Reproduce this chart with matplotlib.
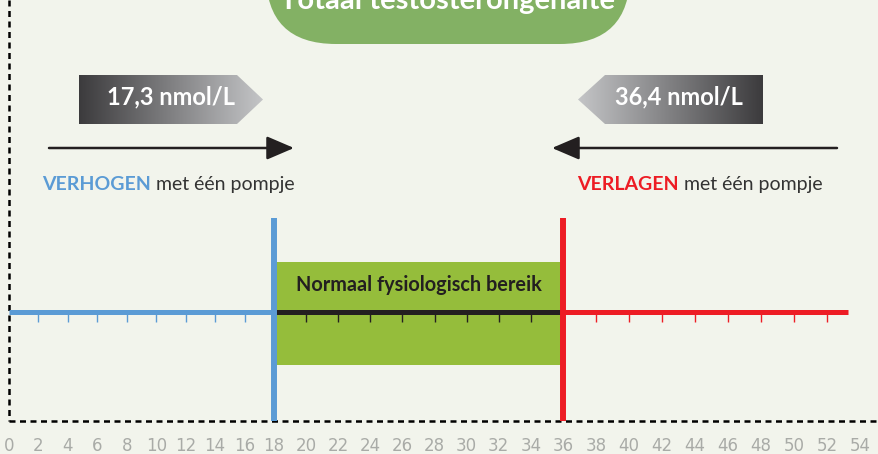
import numpy as np
import matplotlib.pyplot as plt
from matplotlib.patches import Polygon, FancyBboxPatch, FancyArrowPatch

# data
ticks = np.arange(0, 56, 2)
low_end = 18       # blue part ends / normal range starts
high_start = 36    # normal range ends / red part starts
line_end = 53.3
low_label = "17,3 nmol/L"
high_label = "36,4 nmol/L"
range_label = "Normaal fysiologisch bereik"
title = "Totaal testosterongehalte"

bg = "#f2f4ec"
blue = "#5b9bd5"
red = "#ed1c24"
dark = "#231f20"
green = "#95bd3b"
title_green = "#83b164"

# axis in the picture is not evenly spaced -> piecewise scale
knots_v = [-10, 0, 18, 36, 54, 64]
knots_p = [9 - 147.2, 9, 274, 563, 860, 1025]

def fwd(v):
    return np.interp(v, knots_v, knots_p)

def inv(p):
    return np.interp(p, knots_p, knots_v)

plt.rcParams['font.family'] = ['Lato', 'DejaVu Sans']

fig = plt.figure(figsize=(8.79, 4.54), dpi=100, facecolor=bg)

# decoration layer in pixel units
deco = fig.add_axes([0, 0, 1, 1], zorder=1)
deco.set_xlim(0, 879)
deco.set_ylim(454, 0)
deco.axis('off')

# data layer
ax = fig.add_axes([0, 0, 1, 1], zorder=2)
ax.set_xscale('function', functions=(fwd, inv))
ax.set_xlim(inv(0), inv(879))
ax.set_ylim(454, 0)
ax.axis('off')
ax.patch.set_visible(False)

# title blob (cut off at the top like in the original)
blob = FancyBboxPatch((266, -80), 364, 124, boxstyle="round,pad=0,rounding_size=70",
                      fc=title_green, ec='none')
deco.add_patch(blob)
deco.text(448, 9, title, color='white', fontsize=21, fontweight='bold',
          ha='center', va='baseline')

# gradient label boxes
grad = np.linspace(0, 1, 256).reshape(1, -1)
cmap = plt.matplotlib.colors.LinearSegmentedColormap.from_list("g", ["#3c3b3d", "#c4c5c7"])

left_poly = Polygon([(79, 75), (237, 75), (263, 99.5), (237, 124), (79, 124)],
                    closed=True, fc='none', ec='none')
deco.add_patch(left_poly)
im = deco.imshow(grad, cmap=cmap, extent=(79, 263, 124, 75), aspect='auto')
im.set_clip_path(left_poly)

right_poly = Polygon([(578, 99.5), (605, 75), (763, 75), (763, 124), (605, 124)],
                     closed=True, fc='none', ec='none')
deco.add_patch(right_poly)
im2 = deco.imshow(grad[:, ::-1], cmap=cmap, extent=(578, 763, 124, 75), aspect='auto')
im2.set_clip_path(right_poly)
deco.set_xlim(0, 879)
deco.set_ylim(454, 0)

deco.text(171, 104, low_label, color='white', fontsize=17, fontweight='bold',
          ha='center', va='baseline')
deco.text(679, 104, high_label, color='white', fontsize=17, fontweight='bold',
          ha='center', va='baseline')

# arrows
for x0, x1 in [(49, 294), (837, 552)]:
    arr = FancyArrowPatch((x0, 148), (x1, 148),
                          arrowstyle='-|>,head_length=1.05,head_width=0.45',
                          mutation_scale=16, lw=1.8, color=dark,
                          shrinkA=0, shrinkB=0)
    deco.add_patch(arr)

# captions
t1 = deco.text(42, 190, "VERHOGEN", color=blue, fontsize=14, fontweight='bold',
               va='baseline')
deco.annotate(" met één pompje", xy=(1, 0), xycoords=t1, va='bottom',
              fontsize=14, color="#333333")
t2 = deco.text(577, 190, "VERLAGEN", color=red, fontsize=14, fontweight='bold',
               va='baseline')
deco.annotate(" met één pompje", xy=(1, 0), xycoords=t2, va='bottom',
              fontsize=14, color="#333333")

# normal range box
ax.fill_between([low_end, high_start], 262, 365, color=green, lw=0, zorder=1)
ax.text((low_end + high_start) / 2, 291, range_label, color=dark, fontsize=14.3,
        fontweight='bold', ha='center', va='baseline', zorder=5)

# dotted frame
ax.plot([0, 0], [0, 421], color='black', lw=1.8, dashes=(2.4, 1.8), zorder=2)
ax.plot([0, inv(879)], [421, 421], color='black', lw=1.8, dashes=(2.4, 1.8), zorder=2)

# main line segments
ax.plot([0, low_end], [312, 312], color=blue, lw=3.6, solid_capstyle='butt', zorder=3)
ax.plot([low_end, high_start], [312, 312], color=dark, lw=3.6, solid_capstyle='butt', zorder=3)
ax.plot([high_start, line_end], [312, 312], color=red, lw=3.6, solid_capstyle='butt', zorder=3)

# small ticks under the line
for lo, hi, c in [(0, low_end, blue), (low_end, high_start, dark), (high_start, line_end, red)]:
    tk = [t for t in ticks if lo < t < hi]
    ax.vlines(tk, 314, 322, color=c, lw=1.0, zorder=3)

# vertical boundary lines
ax.vlines([low_end], 218, 421, color=blue, lw=4.3, zorder=4)
ax.vlines([high_start], 218, 421, color=red, lw=4.3, zorder=4)

# tick labels
for t in ticks:
    ax.text(t, 446, str(t), color="#a9aba7", fontsize=12, ha='center', va='center',
            family=['Liberation Sans Narrow', 'DejaVu Sans'])

fig.savefig("out.png", dpi=100, facecolor=bg)
